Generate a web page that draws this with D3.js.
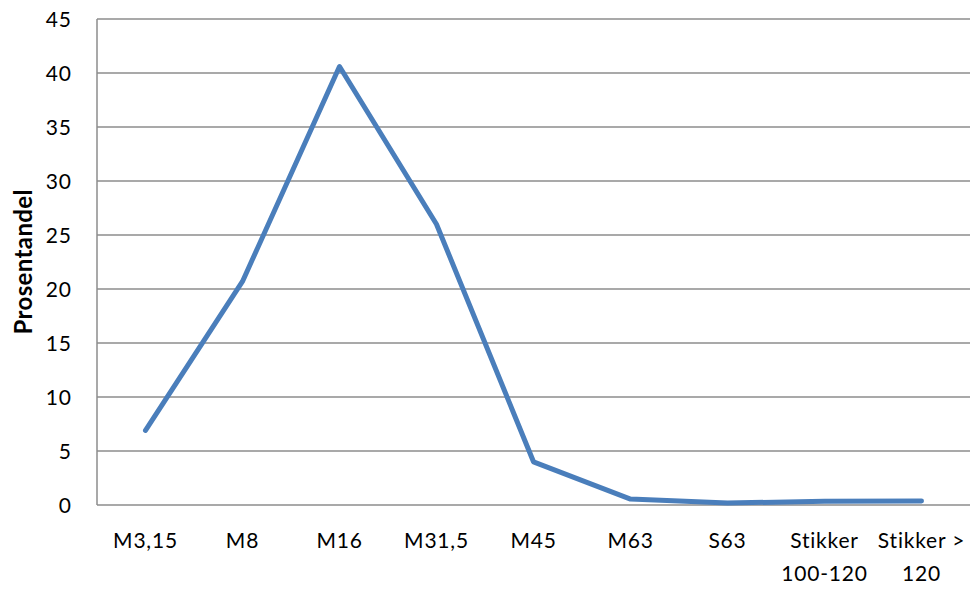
<!DOCTYPE html>
<html>
<head>
<meta charset="utf-8">
<script src="https://cdn.jsdelivr.net/npm/d3@7"></script>
<style>
  html, body { margin: 0; padding: 0; background: #fff; }
  svg { display: block; }
  text { font-family: Lato, "Open Sans", sans-serif; fill: #000; }
</style>
</head>
<body>
<svg id="chart" width="973" height="590"></svg>
<script>
const categories = ["M3,15", "M8", "M16", "M31,5", "M45", "M63", "S63", "Stikker 100-120", "Stikker > 120"];
const categoryLines = [["M3,15"], ["M8"], ["M16"], ["M31,5"], ["M45"], ["M63"], ["S63"], ["Stikker", "100-120"], ["Stikker >", "120"]];
const values = [6.9, 20.7, 40.6, 26.0, 4.0, 0.55, 0.18, 0.35, 0.36];
const yTicks = [0, 5, 10, 15, 20, 25, 30, 35, 40, 45];
const yTitle = "Prosentandel";

const svg = d3.select("#chart");
const margin = { left: 97, right: 3, top: 19, bottom: 85 };
const W = 973, H = 590;
const x = d3.scaleBand().domain(categories).range([margin.left, W - margin.right]);
const y = d3.scaleLinear().domain([0, 45]).range([H - margin.bottom, margin.top]);

// gridlines
svg.append("g").selectAll("line").data(yTicks).join("line")
  .attr("x1", margin.left).attr("x2", W - margin.right)
  .attr("y1", d => y(d)).attr("y2", d => y(d))
  .attr("stroke", "#8c8c8c").attr("stroke-width", 1.5);

// y axis line
svg.append("line")
  .attr("x1", margin.left).attr("x2", margin.left)
  .attr("y1", y(45)).attr("y2", y(0))
  .attr("stroke", "#8c8c8c").attr("stroke-width", 1.5);

// y tick labels
svg.append("g").selectAll("text").data(yTicks).join("text")
  .attr("x", 72).attr("y", d => y(d))
  .attr("dy", "0.36em")
  .attr("text-anchor", "end")
  .attr("font-size", 21)
  .attr("letter-spacing", 1)
  .text(d => d);

// x tick labels
const xl = svg.append("g").selectAll("text").data(categories).join("text")
  .attr("text-anchor", "middle")
  .attr("font-size", 21)
  .attr("letter-spacing", 0.8)
  .attr("transform", d => `translate(${x(d) + x.bandwidth() / 2},0)`);
xl.each(function(d, i) {
  const t = d3.select(this);
  categoryLines[i].forEach((ln, j) => {
    t.append("tspan").attr("x", 0).attr("y", 548 + j * 33).text(ln);
  });
});

// y title
svg.append("text")
  .attr("transform", `translate(32,${(y(0) + y(45)) / 2}) rotate(-90)`)
  .attr("text-anchor", "middle")
  .attr("font-size", 24)
  .attr("font-weight", "bold")
  .attr("textLength", 145)
  .attr("lengthAdjust", "spacing")
  .text(yTitle);

// line
const line = d3.line()
  .x((d, i) => x(categories[i]) + x.bandwidth() / 2)
  .y(d => y(d));
svg.append("path")
  .datum(values)
  .attr("d", line)
  .attr("fill", "none")
  .attr("stroke", "#4a7ebb")
  .attr("stroke-width", 5)
  .attr("stroke-linejoin", "round")
  .attr("stroke-linecap", "round");
</script>
</body>
</html>
